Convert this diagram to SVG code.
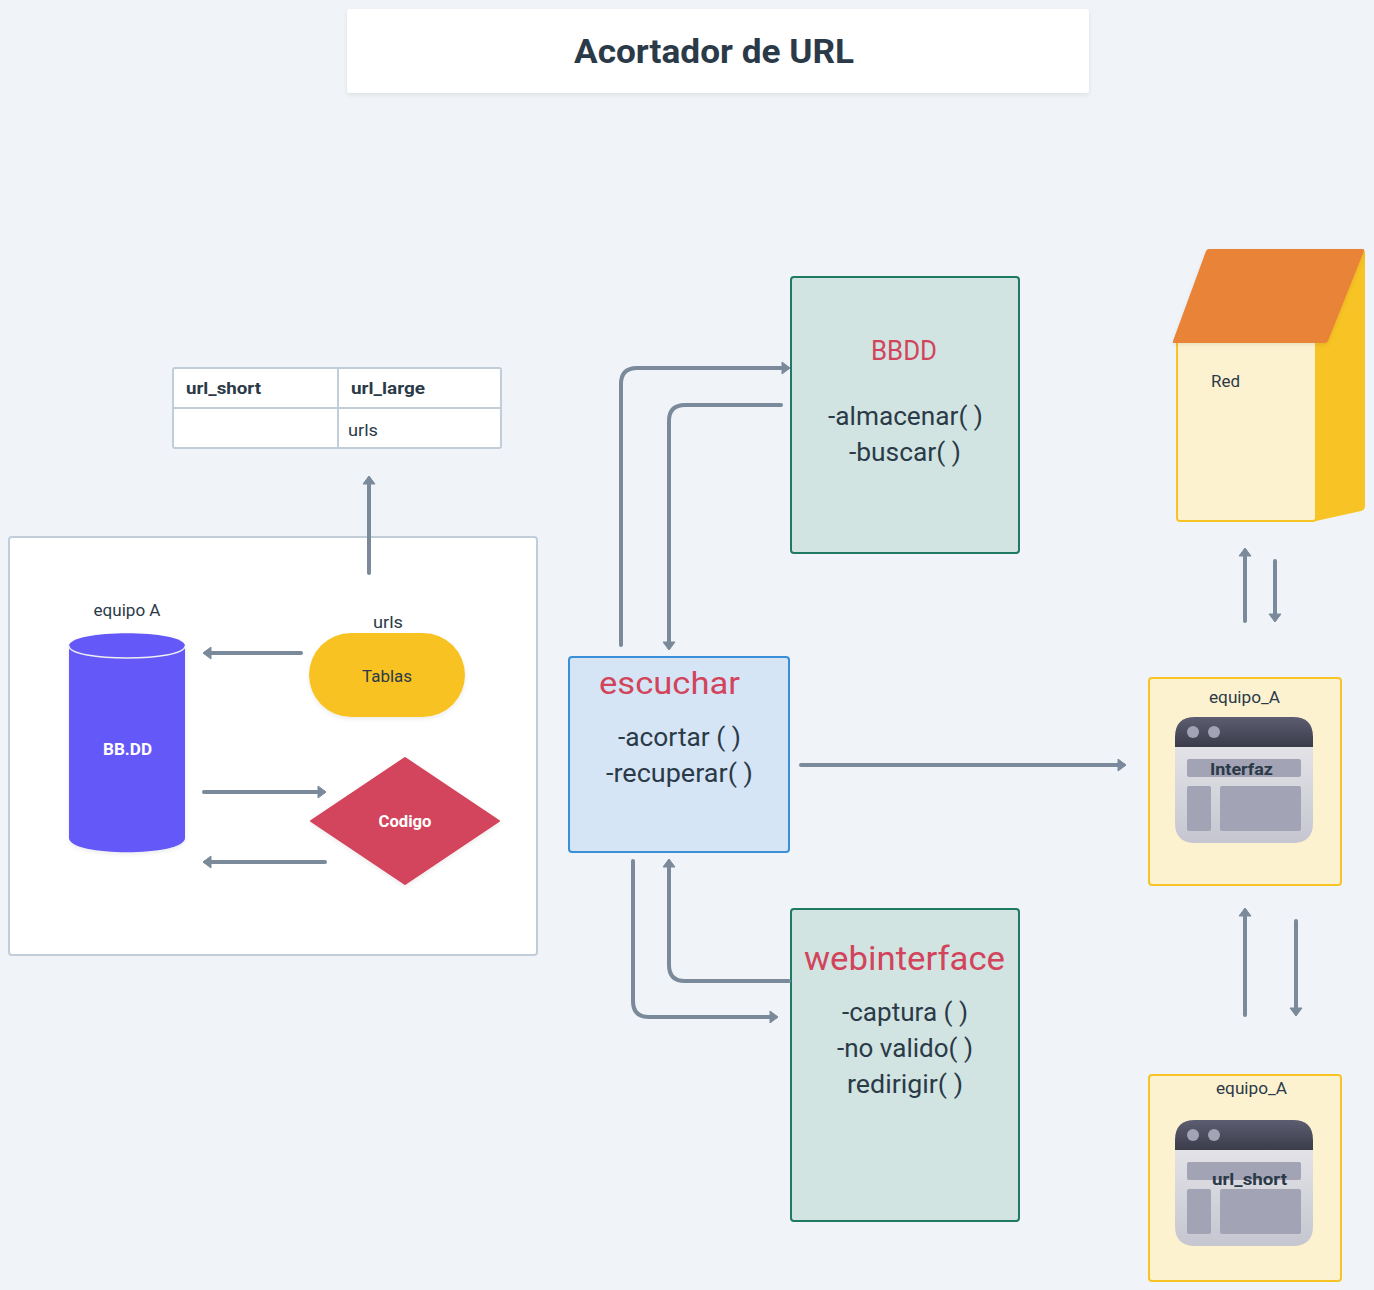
<svg xmlns="http://www.w3.org/2000/svg" width="1374" height="1290" viewBox="0 0 1374 1290">
<style>
text{font-family:"Roboto","Liberation Sans",sans-serif;fill:#2b3a48;text-anchor:middle;font-size:16px}
.b{font-weight:700}
.m{font-size:25px}.h{font-size:29px;fill:#d2445c}
.c{fill:none;stroke:#7a8a9a;stroke-width:4;stroke-linecap:round;marker-end:url(#a)}
.g{fill:#d1e4e1;stroke:#1f7a63;stroke-width:2}
.y{fill:#fdf2d0;stroke:#f7c325;stroke-width:2}
.w1{fill:#a2a3b4}
</style>
<defs>
<marker id="a" markerUnits="userSpaceOnUse" markerWidth="16" markerHeight="16" refX="7" refY="8" orient="auto"><path d="M2 2L10 8L2 14Z" fill="#7a8a9a" stroke="#7a8a9a" stroke-width="1" stroke-linejoin="round"/></marker>
<linearGradient id="top" x1="0" y1="0" x2="0" y2="1"><stop offset="0" stop-color="#5c5d70"/><stop offset="1" stop-color="#3b3c4a"/></linearGradient>
<linearGradient id="body" x1="0" y1="0" x2="0" y2="1"><stop offset="0" stop-color="#e3e2e7"/><stop offset="1" stop-color="#c5c6d0"/></linearGradient>
<filter id="sh" x="-10%" y="-10%" width="120%" height="125%"><feDropShadow dx="0" dy="2" stdDeviation="2" flood-color="#000" flood-opacity=".08"/></filter>
<g id="win">
<path d="M0 30V20Q0 0 20 0H118Q138 0 138 20V30Z" fill="url(#top)"/>
<path d="M0 30H138V106Q138 126 118 126H20Q0 126 0 106Z" fill="url(#body)"/>
<circle cx="18" cy="15" r="6" class="w1"/><circle cx="39" cy="15" r="6" class="w1"/>
<rect x="12" y="42" width="114" height="18" rx="2" class="w1"/>
<rect x="12" y="69" width="24" height="45" rx="2" class="w1"/>
<rect x="45" y="69" width="81" height="45" rx="2" class="w1"/>
</g>
</defs>
<rect width="1374" height="1290" fill="#f0f4f8"/>
<g id="title"><rect x="347" y="9" width="742" height="84" rx="3" fill="#fff" filter="url(#sh)"/><text x="714" y="63" style="font-size:33px" class="b" textLength="280" lengthAdjust="spacingAndGlyphs">Acortador de URL</text></g>
<g id="table">
<rect x="173" y="368" width="328" height="80" rx="2" fill="#fff" stroke="#c1cdd9" stroke-width="2"/>
<path d="M173 408H501M338 368V448" fill="none" stroke="#c1cdd9" stroke-width="2"/>
<text x="223.500" y="394" class="b" textLength="75" lengthAdjust="spacingAndGlyphs">url_short</text><text x="388" y="394" class="b" textLength="74" lengthAdjust="spacingAndGlyphs">url_large</text><text x="363" y="436" textLength="30" lengthAdjust="spacingAndGlyphs">urls</text>
</g>
<g id="container"><rect x="9" y="537" width="528" height="418" rx="3" fill="#fff" stroke="#c1cdd9" stroke-width="2"/></g>
<g id="bbdd-cylinder">
<text x="127" y="616" textLength="67" lengthAdjust="spacingAndGlyphs">equipo A</text>
<path d="M69 646C69 629 185 629 185 646V838C185 857 69 857 69 838Z" fill="#6559f8" filter="url(#sh)"/>
<path d="M69 646C69 662 185 662 185 646" fill="none" stroke="#eee" stroke-width="1.500"/>
<text x="127.500" y="755" class="b" style="fill:#fff" textLength="49" lengthAdjust="spacingAndGlyphs">BB.DD</text>
</g>
<g id="tablas">
<text x="388" y="628" textLength="30" lengthAdjust="spacingAndGlyphs">urls</text>
<rect x="309" y="633" width="156" height="84" rx="42" fill="#f8c324" filter="url(#sh)"/>
<text x="387" y="682" textLength="50" lengthAdjust="spacingAndGlyphs">Tablas</text>
</g>
<g id="codigo">
<path d="M405 758L499 821L405 884L311 821Z" fill="#d3445b" stroke="#d3445b" stroke-width="2" stroke-linejoin="round" filter="url(#sh)"/>
<text x="405" y="827" class="b" style="fill:#fff" textLength="53" lengthAdjust="spacingAndGlyphs">Codigo</text>
</g>
<g id="escuchar">
<rect x="569" y="657" width="220" height="195" rx="3" fill="#d5e5f5" stroke="#3b8fd6" stroke-width="2"/>
<text x="669.500" y="694" class="h" style="font-size:32px" textLength="141" lengthAdjust="spacingAndGlyphs">escuchar</text>
<text x="679.500" y="746" class="m" textLength="123" lengthAdjust="spacingAndGlyphs">-acortar ( )</text><text x="679.500" y="782" class="m" textLength="147" lengthAdjust="spacingAndGlyphs">-recuperar( )</text>
</g>
<g id="bbdd">
<rect x="791" y="277" width="228" height="276" rx="3" class="g"/>
<text x="904" y="360" class="h" style="font-size:27px" textLength="66" lengthAdjust="spacingAndGlyphs">BBDD</text>
<text x="905.500" y="425" class="m" textLength="155" lengthAdjust="spacingAndGlyphs">-almacenar( )</text><text x="905" y="461" class="m" textLength="112" lengthAdjust="spacingAndGlyphs">-buscar( )</text>
</g>
<g id="webinterface">
<rect x="791" y="909" width="228" height="312" rx="3" class="g"/>
<text x="904.500" y="970" class="h" style="font-size:33px" textLength="201" lengthAdjust="spacingAndGlyphs">webinterface</text>
<text x="905" y="1021" class="m" textLength="126" lengthAdjust="spacingAndGlyphs">-captura ( )</text><text x="905" y="1057" class="m" textLength="136" lengthAdjust="spacingAndGlyphs">-no valido( )</text><text x="905" y="1093" class="m" textLength="116" lengthAdjust="spacingAndGlyphs">redirigir( )</text>
</g>
<g id="red">
<path d="M1300 250H1362Q1365 250 1365 253V506Q1365 510 1361 511L1316 521V340Z" fill="#f8c324"/>
<rect x="1177" y="340" width="139" height="181" rx="3" class="y"/>
<path d="M1209 249H1362Q1365 249 1364 251L1328 341Q1327 343 1325 343H1174Q1172 343 1173 341L1206 251Q1207 249 1209 249Z" fill="#e88338" filter="url(#sh)"/>
<text x="1225.500" y="387" textLength="29" lengthAdjust="spacingAndGlyphs">Red</text>
</g>
<g id="interfaz">
<rect x="1149" y="678" width="192" height="207" rx="3" class="y"/>
<text x="1244.500" y="703" textLength="71" lengthAdjust="spacingAndGlyphs">equipo_A</text>
<use href="#win" x="1175" y="717"/>
<text x="1241.500" y="775" class="b" textLength="63" lengthAdjust="spacingAndGlyphs">Interfaz</text>
</g>
<g id="urlshort">
<rect x="1149" y="1075" width="192" height="206" rx="3" class="y"/>
<text x="1251.500" y="1094" textLength="71" lengthAdjust="spacingAndGlyphs">equipo_A</text>
<use href="#win" x="1175" y="1120"/>
<text x="1249.500" y="1185" class="b" textLength="75" lengthAdjust="spacingAndGlyphs">url_short</text>
</g>
<g id="connectors">
<path class="c" d="M369 573V479"/>
<path class="c" d="M301 653H206"/>
<path class="c" d="M204 792H323"/>
<path class="c" d="M325 862H206"/>
<path class="c" d="M621 645V384Q621 368 637 368H787"/>
<path class="c" d="M781 405H685Q669 405 669 421V647"/>
<path class="c" d="M801 765H1123"/>
<path class="c" d="M633 861V1001Q633 1017 649 1017H775"/>
<path class="c" d="M789 981H685Q669 981 669 965V862"/>
<path class="c" d="M1245 621V551"/>
<path class="c" d="M1275 561V619"/>
<path class="c" d="M1245 1015V911"/>
<path class="c" d="M1296 921V1013"/>
</g>
</svg>
